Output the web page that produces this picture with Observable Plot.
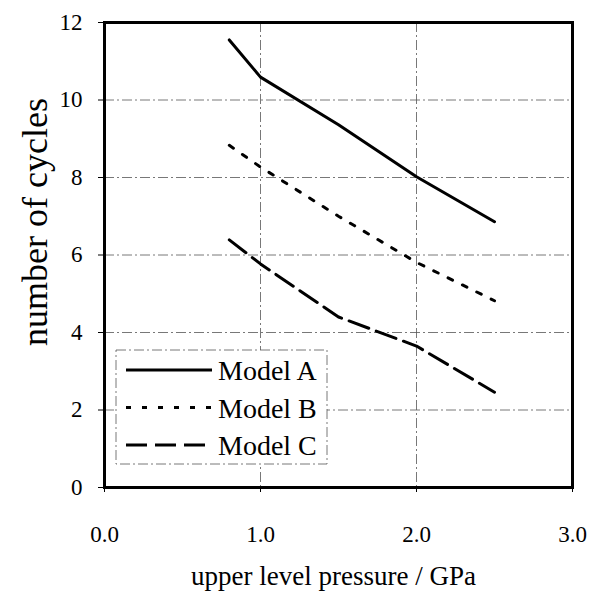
<!DOCTYPE html>
<html>
<head>
<meta charset="utf-8">
<script src="https://cdn.jsdelivr.net/npm/d3@7"></script>
<script src="https://cdn.jsdelivr.net/npm/@observablehq/plot@0.6"></script>
<style>
  html, body { margin: 0; padding: 0; background: #fff; }
  #chart { position: relative; width: 592px; height: 592px; }
  #chart svg { display: block; }
</style>
</head>
<body>
<div id="chart"></div>
<script>
// ---- data ----
const pressure = [0.8, 1.0, 1.5, 2.0, 2.5];
const modelA = [11.55, 10.59, 9.36, 8.02, 6.86];
const modelB = [8.83, 8.27, 7.0, 5.81, 4.82];
const modelC = [6.39, 5.77, 4.4, 3.65, 2.46];
const seriesNames = ["Model A", "Model B", "Model C"];
const xTicks = [0, 1, 2, 3];
const yTicks = [0, 2, 4, 6, 8, 10, 12];
const xTitle = "upper level pressure / GPa";
const yTitle = "number of cycles";

const dashes = ["none", "5,11", "21,8"];
const seriesValues = [modelA, modelB, modelC];
const series = seriesNames.map((name, i) =>
  pressure.map((p, j) => ({ model: name, x: p, y: seriesValues[i][j] }))
);

const font = "'Liberation Serif', 'Times New Roman', serif";
const gridStyle = { stroke: "#555", strokeOpacity: 1, strokeWidth: 0.8, strokeDasharray: "10,3,2,3" };

const plot = Plot.plot({
  width: 592,
  height: 592,
  marginLeft: 104,
  marginRight: 20,
  marginTop: 22,
  marginBottom: 105,
  style: { fontFamily: font, fontSize: "23px", background: "white", color: "black" },
  x: { domain: [0, 3] },
  y: { domain: [0, 12] },
  marks: [
    Plot.gridX(xTicks.filter(d => d > 0 && d < 3), gridStyle),
    Plot.gridY(yTicks.filter(d => d > 0 && d < 12), gridStyle),
    ...series.map((s, i) =>
      Plot.line(s, { x: "x", y: "y", stroke: "black", strokeWidth: 3, strokeDasharray: dashes[i] === "none" ? undefined : dashes[i] })
    ),
    Plot.frame({ stroke: "black", strokeWidth: 3 }),
    Plot.axisX(xTicks, { tickSize: 5, tickPadding: 33, tickFormat: d3.format(".1f"), label: null }),
    Plot.axisY(yTicks, { tickSize: 6, tickPadding: 16, tickFormat: d3.format("d"), label: null }),
    Plot.text([xTitle], { frameAnchor: "bottom", dx: -5, dy: 89, lineAnchor: "middle", fontSize: 27 }),
    Plot.text([yTitle], { frameAnchor: "left", textAnchor: "middle", rotate: -90, dx: -69, dy: -33, lineAnchor: "middle", fontSize: 36 })
  ]
});

const container = document.getElementById("chart");
container.appendChild(plot);

// ---- legend (inside plot area) ----
const lg = d3.select(container).append("svg")
  .attr("width", 213).attr("height", 116)
  .style("position", "absolute").style("left", "115px").style("top", "349px")
  .style("font-family", font);
lg.append("rect").attr("x", 1).attr("y", 1).attr("width", 211).attr("height", 114)
  .attr("fill", "white").attr("stroke", "#555").attr("stroke-width", 0.8)
  .attr("stroke-dasharray", "10,3,2,3");
seriesNames.forEach((name, i) => {
  const ly = 21 + i * 37.5;
  const line = lg.append("line").attr("x1", 11).attr("x2", 97).attr("y1", ly).attr("y2", ly)
    .attr("stroke", "black").attr("stroke-width", 3);
  if (dashes[i] !== "none") line.attr("stroke-dasharray", dashes[i]);
  lg.append("text").attr("x", 103).attr("y", ly + 10).attr("font-size", 28).attr("fill", "black").text(name);
});
</script>
</body>
</html>
